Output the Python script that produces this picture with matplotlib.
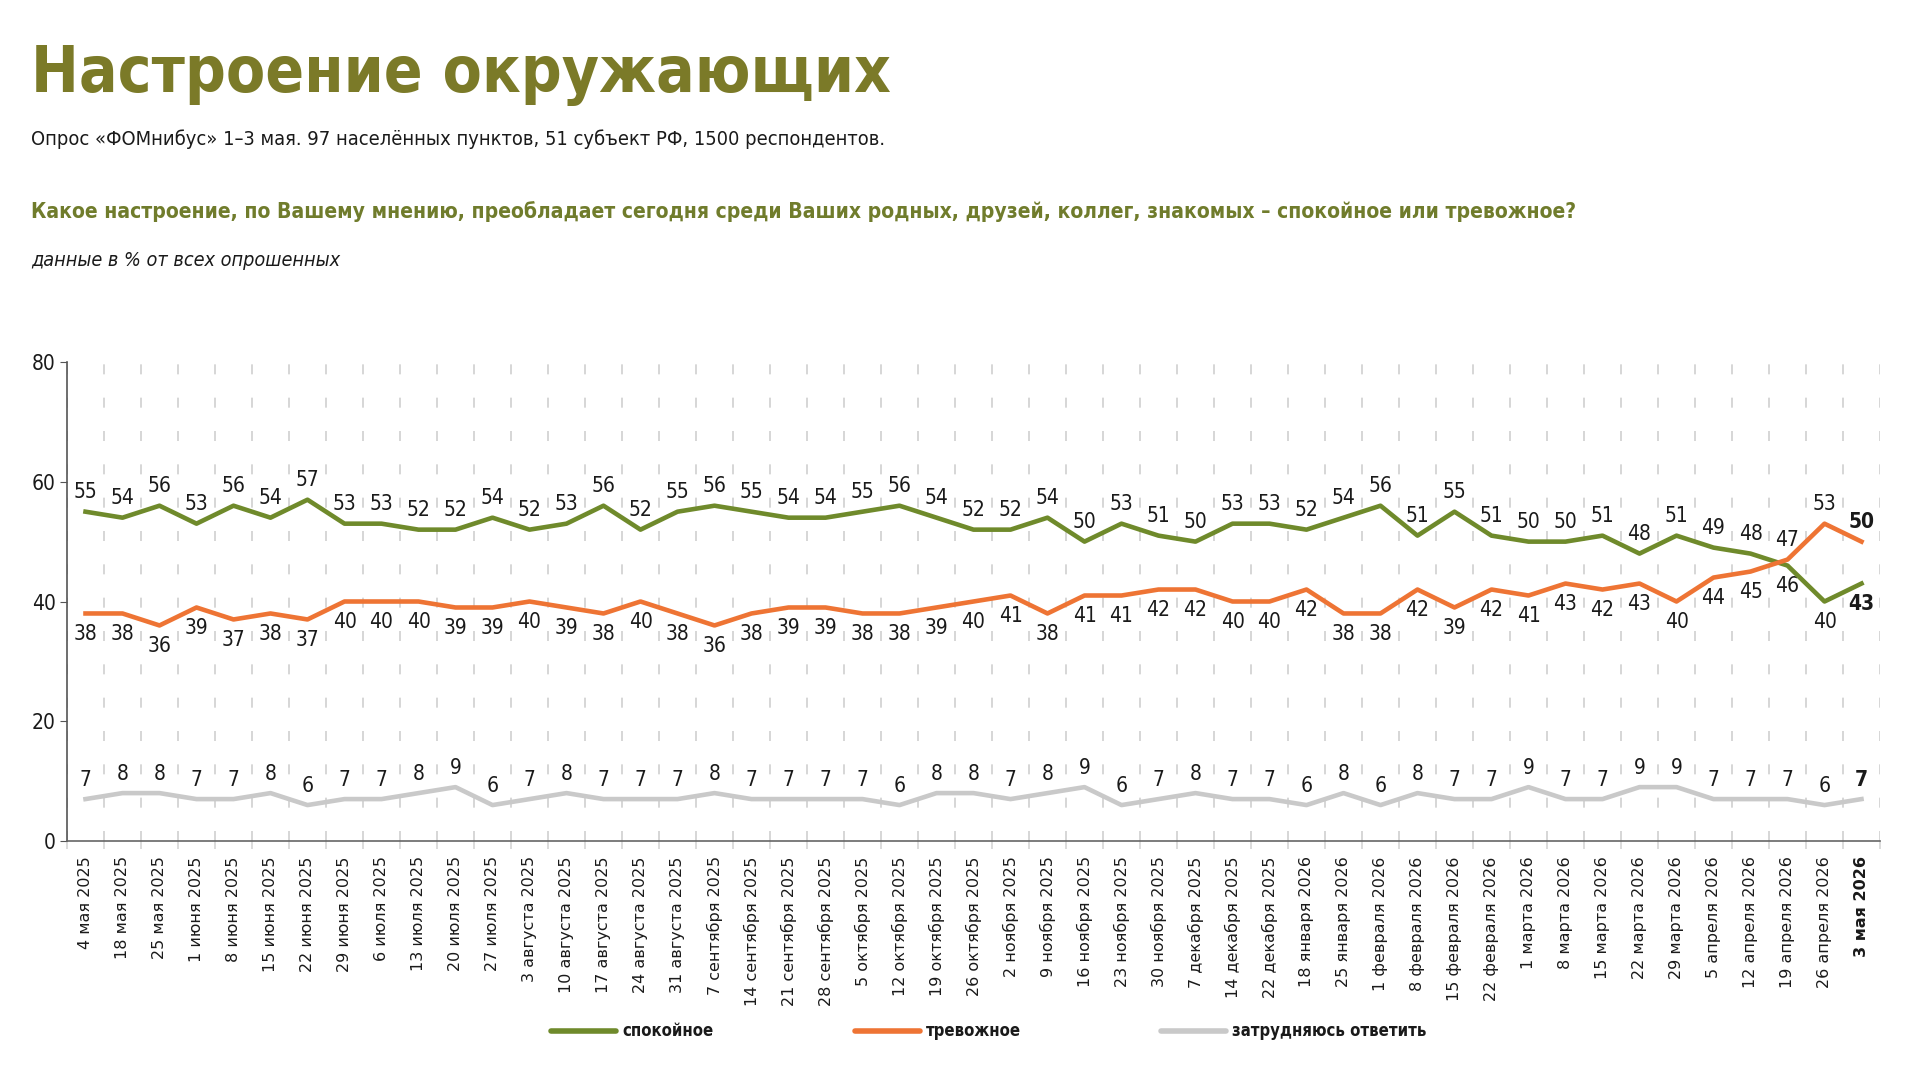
import numpy as np
import matplotlib
matplotlib.use('Agg')
import matplotlib.pyplot as plt
from matplotlib import font_manager as fm
from matplotlib.lines import Line2D

dates = [
    '4 мая 2025', '18 мая 2025', '25 мая 2025', '1 июня 2025', '8 июня 2025',
    '15 июня 2025', '22 июня 2025', '29 июня 2025', '6 июля 2025', '13 июля 2025',
    '20 июля 2025', '27 июля 2025', '3 августа 2025', '10 августа 2025',
    '17 августа 2025', '24 августа 2025', '31 августа 2025', '7 сентября 2025',
    '14 сентября 2025', '21 сентября 2025', '28 сентября 2025', '5 октября 2025',
    '12 октября 2025', '19 октября 2025', '26 октября 2025', '2 ноября 2025',
    '9 ноября 2025', '16 ноября 2025', '23 ноября 2025', '30 ноября 2025',
    '7 декабря 2025', '14 декабря 2025', '22 декабря 2025', '18 января 2026',
    '25 января 2026', '1 февраля 2026', '8 февраля 2026', '15 февраля 2026',
    '22 февраля 2026', '1 марта 2026', '8 марта 2026', '15 марта 2026',
    '22 марта 2026', '29 марта 2026', '5 апреля 2026', '12 апреля 2026',
    '19 апреля 2026', '26 апреля 2026', '3 мая 2026',
]
calm = [55, 54, 56, 53, 56, 54, 57, 53, 53, 52, 52, 54, 52, 53, 56, 52, 55,
        56, 55, 54, 54, 55, 56, 54, 52, 52, 54, 50, 53, 51, 50, 53, 53, 52,
        54, 56, 51, 55, 51, 50, 50, 51, 48, 51, 49, 48, 46, 40, 43]
anxious = [38, 38, 36, 39, 37, 38, 37, 40, 40, 40, 39, 39, 40, 39, 38, 40, 38,
           36, 38, 39, 39, 38, 38, 39, 40, 41, 38, 41, 41, 42, 42, 40, 40, 42,
           38, 38, 42, 39, 42, 41, 43, 42, 43, 40, 44, 45, 47, 53, 50]
hard = [7, 8, 8, 7, 7, 8, 6, 7, 7, 8, 9, 6, 7, 8, 7, 7, 7, 8, 7, 7, 7, 7, 6,
        8, 8, 7, 8, 9, 6, 7, 8, 7, 7, 6, 8, 6, 8, 7, 7, 9, 7, 7, 9, 9, 7, 7,
        7, 6, 7]

GREEN = '#6f8a2b'
ORANGE = '#ee7434'
GRAY = '#c9c9c9'
OLIVE = '#7b7a28'
QCOLOR = '#707c2c'
INK = '#1a1a1a'


def pick_font(*names):
    for name in names:
        try:
            fm.findfont(fm.FontProperties(family=name), fallback_to_default=False)
            return name
        except ValueError:
            continue
    return 'DejaVu Sans'


NARROW = pick_font('Liberation Sans Narrow', 'DejaVu Sans')
plt.rcParams['font.family'] = [NARROW, 'DejaVu Sans']
plt.rcParams['font.stretch'] = 'condensed'

fig = plt.figure(figsize=(19.2, 10.85), dpi=100)
W, H = 1920, 1085
ax = fig.add_axes([67 / W, 1 - 841 / H, (1880 - 67) / W, (841 - 362) / H])
renderer = fig.canvas.get_renderer()

x = np.arange(len(dates))
ax.plot(x, hard, color=GRAY, lw=3.3, solid_joinstyle='round', zorder=3)
ax.plot(x, calm, color=GREEN, lw=3.3, solid_joinstyle='round', zorder=4)
ax.plot(x, anxious, color=ORANGE, lw=3.3, solid_joinstyle='round', zorder=5)

last = len(dates) - 1
for i in x:
    weight = 'bold' if i == last else 'normal'
    green_up = calm[i] >= anxious[i]
    ax.annotate(str(calm[i]), (i, calm[i]), xytext=(0, 14 if green_up else -15),
                textcoords='offset points', ha='center', va='center',
                fontsize=15, fontweight=weight, color=INK)
    ax.annotate(str(anxious[i]), (i, anxious[i]), xytext=(0, -15 if green_up else 14),
                textcoords='offset points', ha='center', va='center',
                fontsize=15, fontweight=weight, color=INK)
    ax.annotate(str(hard[i]), (i, hard[i]), xytext=(0, 14),
                textcoords='offset points', ha='center', va='center',
                fontsize=15, fontweight=weight, color=INK)

ax.set_xlim(-0.5, len(dates) - 0.5)
ax.set_ylim(0, 80)
ax.set_yticks([0, 20, 40, 60, 80])
ax.set_xticks(x, dates, rotation=90, fontsize=11.5, fontstretch='normal',
              va='top', ha='center')
ax.get_xticklabels()[-1].set_fontweight('bold')
ax.set_xticks(np.arange(-0.5, len(dates)), minor=True)
ax.tick_params(axis='x', which='major', length=0, pad=11, colors=INK)
ax.tick_params(axis='x', which='minor', length=6, color='#d6d6d6', width=1.2)
ax.tick_params(axis='y', length=5, color='#555555', labelsize=15, pad=3,
               labelcolor=INK)
ax.grid(which='minor', axis='x', color='#d0d0d0', lw=1.2, ls=(0, (6, 14)))
for s in ['top', 'right']:
    ax.spines[s].set_visible(False)
ax.spines['left'].set_color('#555555')
ax.spines['bottom'].set_color('#666666')
ax.spines['left'].set_linewidth(1.2)
ax.spines['bottom'].set_linewidth(1.2)


def fit_width(t, px):
    w = t.get_window_extent(renderer=renderer).width
    t.set_fontsize(t.get_fontsize() * px / w)


# header block
t1 = fig.text(31 / W, 1 - 92 / H, 'Настроение окружающих', fontsize=50,
              fontweight='bold', color=OLIVE, va='baseline')
t2 = fig.text(31 / W, 1 - 145 / H,
              'Опрос «ФОМнибус» 1–3 мая. 97 населённых пунктов, 51 субъект РФ, 1500 респондентов.',
              fontsize=16, color=INK, va='baseline')
t3 = fig.text(31 / W, 1 - 218 / H,
              'Какое настроение, по Вашему мнению, преобладает сегодня среди Ваших родных, '
              'друзей, коллег, знакомых – спокойное или тревожное?',
              fontsize=18, fontweight='bold', color=QCOLOR, va='baseline')
t4 = fig.text(31 / W, 1 - 266 / H, 'данные в % от всех опрошенных', fontsize=15,
              style='italic', color=INK, va='baseline')
fit_width(t1, 860)
fit_width(t2, 860)
fit_width(t3, 1550)
fit_width(t4, 310)

# legend
legend_items = [('спокойное', GREEN, 551), ('тревожное', ORANGE, 855),
                ('затрудняюсь ответить', GRAY, 1161)]
ly = 1 - 1031 / H
for label, color, x0 in legend_items:
    fig.add_artist(Line2D([x0 / W, (x0 + 65) / W], [ly, ly], color=color, lw=4,
                          solid_capstyle='round'))
    fig.text((x0 + 71) / W, ly, label, fontsize=12, fontweight='bold',
             color=INK, va='center', ha='left')

fig.savefig('out.png', dpi=100, facecolor='white')
